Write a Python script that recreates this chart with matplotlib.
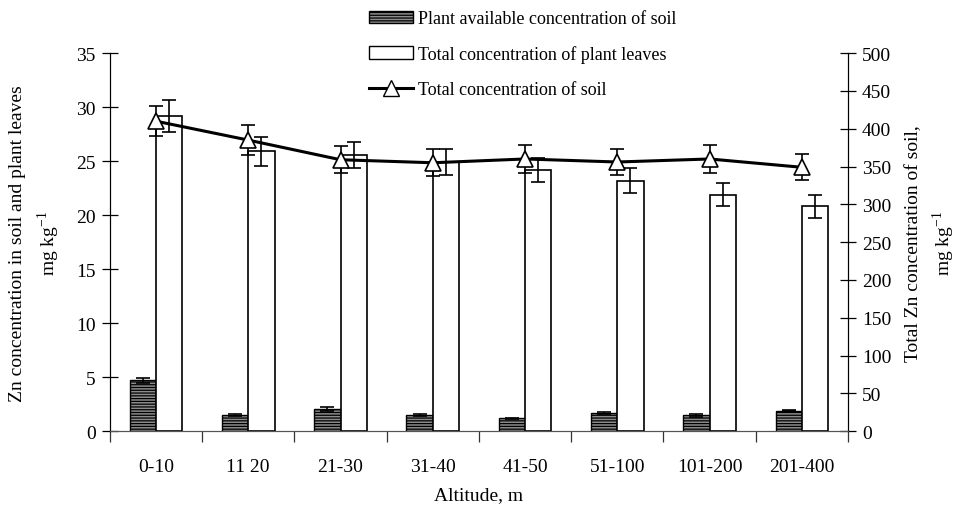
import numpy as np
import matplotlib.pyplot as plt
from matplotlib.lines import Line2D
from matplotlib.patches import Patch

plt.rcParams['font.family'] = ['Liberation Serif', 'DejaVu Serif']
plt.rcParams['mathtext.fontset'] = 'custom'
plt.rcParams['mathtext.rm'] = 'Liberation Serif'
plt.rcParams['hatch.linewidth'] = 0.9

altitude = ['0-10', '11 20', '21-30', '31-40', '41-50', '51-100', '101-200', '201-400']

# plant available Zn in soil (left axis)
avail_soil = [4.7, 1.5, 2.05, 1.5, 1.2, 1.7, 1.45, 1.9]
avail_soil_err = [0.25, 0.1, 0.15, 0.1, 0.05, 0.1, 0.1, 0.05]

# total Zn in plant leaves (left axis)
leaves = [29.2, 25.9, 25.6, 24.9, 24.2, 23.2, 21.9, 20.8]
leaves_err = [1.5, 1.35, 1.2, 1.2, 1.1, 1.15, 1.1, 1.05]

# total Zn in soil (right axis)
total_soil = [410, 385, 359, 355, 360, 356, 360, 349]
total_soil_err = [20, 20, 18, 18, 18, 17, 18, 17]

fig = plt.figure(figsize=(9.55, 5.06), dpi=100)
ax = fig.add_axes([0.115, 0.146, 0.773, 0.747])
ax2 = ax.twinx()

x = np.arange(len(altitude))
w = 0.285

ax.bar(x - w / 2, avail_soil, w, facecolor='#8c8c8c', edgecolor='black',
       hatch='------', linewidth=1.0, zorder=2)
ax.errorbar(x - w / 2, avail_soil, yerr=avail_soil_err, fmt='none',
            ecolor='black', elinewidth=1.2, capsize=5, capthick=1.2, zorder=3)
ax.bar(x + w / 2, leaves, w, facecolor='white', edgecolor='black',
       linewidth=1.2, zorder=2)
ax.errorbar(x + w / 2, leaves, yerr=leaves_err, fmt='none',
            ecolor='black', elinewidth=1.2, capsize=5, capthick=1.2, zorder=6)

ax2.errorbar(x, total_soil, yerr=total_soil_err, fmt='none',
             ecolor='black', elinewidth=1.2, capsize=5, capthick=1.2, zorder=4)
ax2.plot(x, total_soil, color='black', linewidth=2.2, marker='^',
         markersize=12, markerfacecolor='white', markeredgecolor='black',
         markeredgewidth=1.2, zorder=5)

ax.set_xlim(-0.5, len(altitude) - 0.5)
ax.set_ylim(0, 35)
ax.set_yticks(np.arange(0, 36, 5))
ax2.set_ylim(0, 500)
ax2.set_yticks(np.arange(0, 501, 50))

ax.set_xticks(x)
ax.set_xticklabels(altitude)
ax.set_xticks(np.arange(-0.5, len(altitude), 1), minor=True)
ax.tick_params(axis='x', which='major', length=0, pad=19, labelsize=14)
ax.tick_params(axis='x', which='minor', direction='out', length=8, width=0.9,
               color='#333333')
ax.tick_params(axis='y', direction='inout', length=12, width=0.9, labelsize=14, pad=4)
ax2.tick_params(axis='y', direction='inout', length=12, width=0.9, labelsize=14, pad=4)

for a in (ax, ax2):
    a.spines['top'].set_visible(False)
    a.spines['bottom'].set_color('#555555')
ax2.set_zorder(ax.get_zorder() + 1)
ax2.patch.set_visible(False)

ax.set_xlabel('Altitude, m', fontsize=14, labelpad=8)
ax.set_ylabel('Zn concentration in soil and plant leaves\nmg kg$^{-1}$',
              fontsize=14, labelpad=10, linespacing=1.5)
ax2.set_ylabel('Total Zn concentration of soil,\nmg kg$^{-1}$', fontsize=14,
               labelpad=10, linespacing=1.4)

handles = [
    Patch(facecolor='#8c8c8c', edgecolor='black', hatch='------'),
    Patch(facecolor='white', edgecolor='black'),
    Line2D([], [], color='black', linewidth=2.2, marker='^', markersize=12,
           markerfacecolor='white', markeredgecolor='black'),
]
labels = ['Plant available concentration of soil',
          'Total concentration of plant leaves',
          'Total concentration of soil']
fig.legend(handles, labels, loc='upper left', bbox_to_anchor=(0.369, 1.01),
           frameon=False, fontsize=13, handlelength=2.45, handleheight=0.7,
           labelspacing=1.0, handletextpad=0.3)

fig.savefig('out.png', dpi=100)
